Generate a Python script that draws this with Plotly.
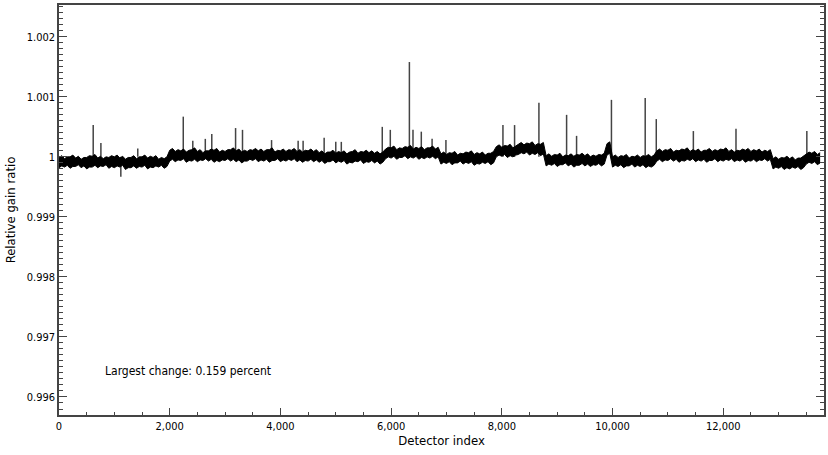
import plotly.graph_objs as go

# Band of the gain ratio per 100-detector bin, offsets from 1 in units of 1e-5
band_lo = [-18, -17, -19, -16, -18, -20, -17, -18, -16, -19, -18, -17, -21, -18, -19, -17, -20, -18, -17, -19,
           -7, -8, -6, -9, -7, -8, -6, -7, -9, -8, -6, -7, -8, -10, -7, -6, -8, -7, -9, -6, -8, -7, -6, -8, -9, -7, -8,
           -9, -11, -8, -10, -9, -12, -10, -8, -11, -9, -10, -12,
           -3, -2, -4, -1, -3, -2, -4, -3, -2, -3,
           -12, -11, -13, -10, -12, -11, -14, -12, -11, -13,
           0, 1, -1, 0,
           4, 5, 3, 4, 2,
           -15, -14, -16, -13, -15, -17, -14, -15, -16, -14, -15,
           3,
           -17, -16, -18, -15, -17, -16, -18, -17,
           -7, -8, -6, -7, -9, -7, -6, -8, -7, -9, -6, -8, -7, -6, -8, -7, -9, -7, -8, -6, -7,
           -20, -19, -21, -20, -19, -21,
           -12, -11, -13]
band_hi = [2, 0, 3, 1, -1, 2, 4, 1, 0, 2, 3, 1, -1, 2, 0, 3, 1, 2, -1, 0,
           14, 12, 13, 11, 15, 12, 10, 13, 14, 11, 12, 15, 13, 11, 12, 14, 13, 12, 15, 11, 13, 12, 14, 12, 11, 13, 12,
           10, 8, 11, 9, 10, 8, 12, 9, 11, 10, 9, 8,
           16, 18, 15, 17, 19, 16, 17, 15, 18, 16,
           8, 7, 9, 6, 8, 10, 7, 8, 6, 9,
           20, 19, 21, 18,
           24, 23, 25, 22, 24,
           5, 4, 6, 3, 5, 4, 6, 5, 3, 4, 6,
           25,
           3, 2, 4, 1, 3, 2, 4, 3,
           13, 12, 14, 11, 13, 15, 12, 13, 11, 14, 12, 13, 15, 12, 11, 13, 14, 12, 13, 11, 12,
           0, -1, 1, 0, -2, 1,
           8, 9, 7]
bin_width = 100

# Isolated spikes: detector index and gain ratio at tip
spike_idx = [618, 757, 1117, 1423, 2245, 2417, 2643, 2760, 3190, 3315, 3840, 4320, 4410, 4790, 5000, 5100,
             5840, 5985, 6330, 6395, 6545, 6740, 6990, 8020, 8230, 8670, 9170, 9350, 9980, 10590, 10790,
             11460, 12230, 13510]
spike_val = [1.00053, 1.00023, 0.99967, 1.00014, 1.00067, 1.00027, 1.00030, 1.00038, 1.00048, 1.00045,
             1.00028, 1.00027, 1.00027, 1.00032, 1.00025, 1.00025, 1.00050, 1.00045, 1.00158, 1.00045,
             1.00042, 1.00030, 1.00028, 1.00053, 1.00053, 1.00090, 1.00070, 1.00035, 1.00095, 1.00098,
             1.00063, 1.00043, 1.00047, 1.00043]

y_ticks = [0.996, 0.997, 0.998, 0.999, 1.0, 1.001, 1.002]
y_labels = ['0.996', '0.997', '0.998', '0.999', '1', '1.001', '1.002']
x_ticks = [0, 2000, 4000, 6000, 8000, 10000, 12000]

# band edges, jagged
x_lo, y_lo, x_hi, y_hi = [], [], [], []
for i, (lo, hi) in enumerate(zip(band_lo, band_hi)):
    x_lo += [i * bin_width, i * bin_width + bin_width / 2]
    y_lo += [1 + lo * 1e-5, 1 + (lo + 3) * 1e-5]
    x_hi += [i * bin_width, i * bin_width + bin_width / 2]
    y_hi += [1 + (hi - 3) * 1e-5, 1 + hi * 1e-5]

sx, sy = [], []
for idx, v in zip(spike_idx, spike_val):
    sx += [idx, idx, None]
    sy += [1.0, v, None]

font = 'DejaVu Sans Condensed, Liberation Sans Narrow, Liberation Sans, Arial'

fig = go.Figure()
fig.add_trace(go.Scatter(x=sx, y=sy, mode='lines', line=dict(color='#444444', width=1.5),
                         hoverinfo='skip'))
fig.add_trace(go.Scatter(x=x_lo, y=y_lo, mode='lines', line=dict(color='black', width=1)))
fig.add_trace(go.Scatter(x=x_hi, y=y_hi, mode='lines', line=dict(color='black', width=1),
                         fill='tonexty', fillcolor='black'))

fig.add_annotation(x=800, y=0.99643, text='Largest change: 0.159 percent', showarrow=False,
                   xanchor='left', font=dict(size=12, color='black', family=font))

fig.update_layout(
    width=828, height=455,
    margin=dict(l=59, r=2, t=5, b=40),
    paper_bgcolor='white', plot_bgcolor='white',
    showlegend=False,
    font=dict(family=font, size=11, color='black'),
    xaxis=dict(range=[0, 13820], tickvals=x_ticks, tickformat=',', ticks='inside', ticklen=7,
               tickcolor='#444', showgrid=False, zeroline=False, showline=True, linecolor='#444',
               linewidth=1.5, mirror=True,
               minor=dict(dtick=500, ticks='inside', ticklen=3, tickcolor='#444'),
               title=dict(text='Detector index', font=dict(size=13), standoff=4)),
    yaxis=dict(range=[0.99570, 1.00253], tickvals=y_ticks, ticktext=y_labels, ticks='inside',
               ticklen=8, tickcolor='#444', showgrid=False, zeroline=False, showline=True,
               linecolor='#444', linewidth=1.5, mirror='allticks',
               minor=dict(dtick=0.0001, ticks='inside', ticklen=4, tickcolor='#444'),
               title=dict(text='Relative gain ratio', font=dict(size=13), standoff=8)),
)

fig.write_html('out.html', config={'displayModeBar': False},
               post_script="document.body.style.margin='0';")
